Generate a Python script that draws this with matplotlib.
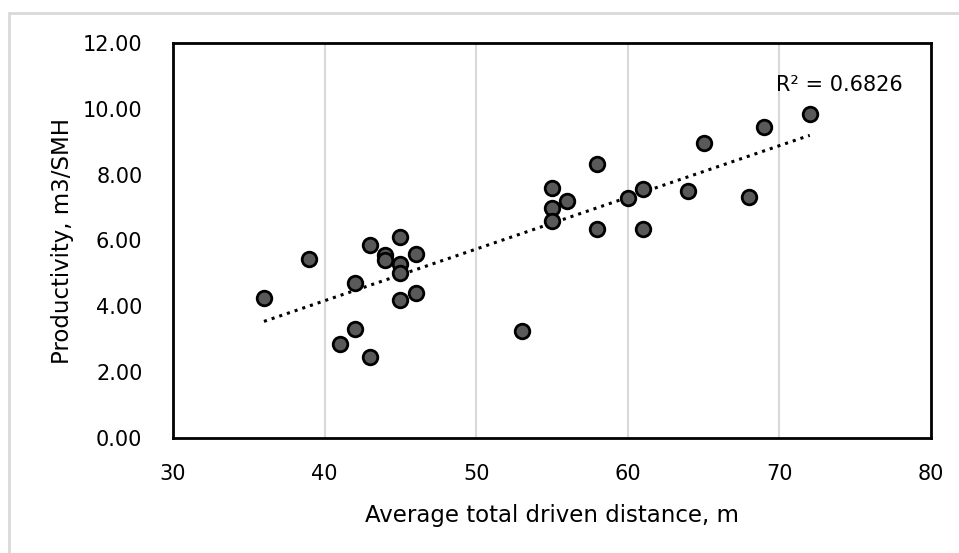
import numpy as np
import matplotlib
matplotlib.use('Agg')
import matplotlib.pyplot as plt
from matplotlib.patches import Rectangle

# average total driven distance (m) and productivity (m3/SMH)
distance = [36, 39, 41, 42, 42, 43, 43, 44, 44, 45, 45, 45, 45, 46, 46,
            53, 55, 55, 55, 56, 58, 58, 60, 61, 61, 64, 65, 68, 69, 72]
productivity = [4.25, 5.45, 2.85, 4.70, 3.30, 2.45, 5.85, 5.55, 5.40, 6.10, 5.30, 5.00, 4.20, 5.60, 4.40,
                3.25, 7.60, 7.00, 6.60, 7.20, 8.33, 6.35, 7.30, 7.55, 6.35, 7.50, 8.95, 7.33, 9.45, 9.85]
r2_label = 'R\u00b2 = 0.6826'
xticks = [30, 40, 50, 60, 70, 80]
yticks = [0, 2, 4, 6, 8, 10, 12]

plt.rcParams['font.family'] = 'DejaVu Sans'

fig = plt.figure(figsize=(9.59, 5.53), dpi=100)
ax = fig.add_axes([173/959, 1-438/553, (931-173)/959, (438-43)/553])

# chart frame (only left and top edges fall inside the picture)
fig.patches.append(Rectangle((9/959, -0.1), 1.2, 1.1-13/553, transform=fig.transFigure,
                             fill=False, ec='#d9d9d9', lw=2))

# linear trend line
slope, icpt = np.polyfit(distance, productivity, 1)
tx = np.array([min(distance), max(distance)])
ax.plot(tx, slope*tx + icpt, ls=':', color='black', lw=2.2, zorder=2)

ax.plot(distance, productivity, 'o', ms=10.5, mfc='#595959', mec='black', mew=2, zorder=3)

ax.text(69.8, 10.73, r2_label, fontsize=15, va='center', ha='left')

ax.set_xlim(30, 80)
ax.set_ylim(0, 12)
ax.set_xticks(xticks)
ax.set_yticks(yticks)
ax.set_yticklabels(['%.2f' % v for v in yticks])
ax.tick_params(length=0, labelsize=15)
ax.tick_params(axis='y', pad=22)
ax.tick_params(axis='x', pad=19)
ax.grid(axis='x', color='#d9d9d9', lw=1.5)
ax.set_axisbelow(True)
for s in ax.spines.values():
    s.set_linewidth(2)

ax.set_xlabel('Average total driven distance, m', fontsize=16.5, labelpad=14)
ax.set_ylabel('Productivity, m3/SMH', fontsize=16.5, labelpad=6)

fig.savefig('out.png', dpi=100)
